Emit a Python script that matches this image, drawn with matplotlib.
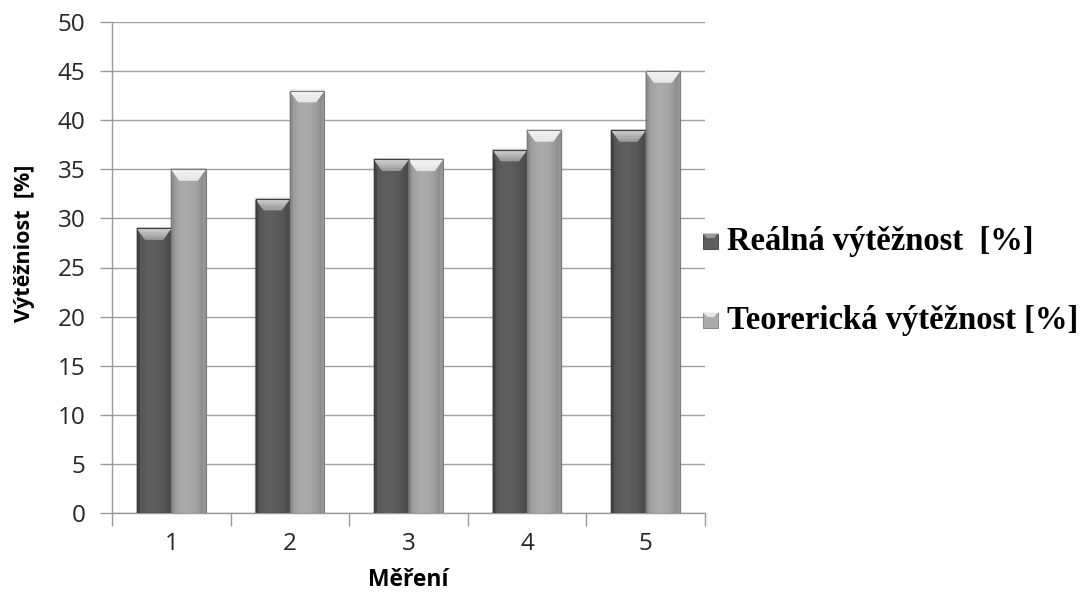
import numpy as np
import matplotlib
matplotlib.use("Agg")
import matplotlib.pyplot as plt
from matplotlib.patches import Polygon, Rectangle

categories = ["1", "2", "3", "4", "5"]
real_yield = [29, 32, 36, 37, 39]
theor_yield = [35, 43, 36, 39, 45]
series_names = ["Reálná výtěžnost  [%]", "Teorerická výtěžnost [%]"]
y_ticks = [0, 5, 10, 15, 20, 25, 30, 35, 40, 45, 50]

W, H, DPI = 1086, 601, 100
fig = plt.figure(figsize=(W / DPI, H / DPI), dpi=DPI)
ax = fig.add_axes([112 / W, 1 - 513 / H, (705 - 112) / W, (513 - 22) / H])

tick_font = "Open Sans"
bar_w = 0.29
x = np.arange(len(categories))

dark = dict(face="#5e5e5e", left="#434343", right="#4c4c4c", cap="#9a9a9a", edge="#3c3c3c")
light = dict(face="#ababab", left="#8e8e8e", right="#979797", cap="#e6e6e6", edge="#7c7c7c")


def beveled_bar(ax, xc, val, w, pal):
    x0, x1 = xc - w / 2, xc + w / 2
    d = w * 0.24
    hcap = 1.15
    # soft shadow
    ax.add_patch(Rectangle((x0 - 0.01, 0), w + 0.02, val + 0.15, facecolor="#000000",
                           alpha=0.07, edgecolor="none", zorder=2.9))
    # face with horizontal shading
    n = 24
    edges = np.linspace(x0, x1, n + 1)
    base = np.array(matplotlib.colors.to_rgb(pal["face"]))
    for i in range(n):
        t = (i + 0.5) / n
        k = 1.0 - 0.2 * (abs(t - 0.45) * 2) ** 2
        c = np.clip(base * k, 0, 1)
        ax.add_patch(Rectangle((edges[i], 0), edges[i + 1] - edges[i], val,
                               facecolor=c, edgecolor=c, linewidth=0.3, zorder=3))
    # side bevels
    ax.add_patch(Polygon([(x0, 0), (x0, val), (x0 + d * 0.35, val - hcap), (x0 + d * 0.35, 0)],
                         closed=True, facecolor=pal["left"], edgecolor="none", zorder=3.1))
    ax.add_patch(Polygon([(x1, 0), (x1, val), (x1 - d * 0.35, val - hcap), (x1 - d * 0.35, 0)],
                         closed=True, facecolor=pal["right"], edgecolor="none", zorder=3.1))
    # top bevel, fading from white to the cap colour
    steps = 5
    cap_top = np.array(matplotlib.colors.to_rgb("#ffffff"))
    cap_bot = np.array(matplotlib.colors.to_rgb(pal["cap"]))
    for j in range(steps):
        a, b = j / steps, (j + 1) / steps
        m = (a + b) / 2
        c = np.clip(cap_top * (1 - m) * 0.6 + cap_bot * (0.4 + 0.6 * m), 0, 1)
        ax.add_patch(Polygon([(x0 + d * a, val - hcap * a), (x1 - d * a, val - hcap * a),
                              (x1 - d * b, val - hcap * b), (x0 + d * b, val - hcap * b)],
                             closed=True, facecolor=c, edgecolor=c, linewidth=0.4,
                             zorder=3.2))
    ax.add_patch(Rectangle((x0, 0), w, val, facecolor="none", edgecolor=pal["edge"],
                           linewidth=0.8, zorder=3.4))


for i in range(len(categories)):
    beveled_bar(ax, x[i] - bar_w / 2, real_yield[i], bar_w, dark)
    beveled_bar(ax, x[i] + bar_w / 2, theor_yield[i], bar_w, light)

ax.set_xlim(-0.5, len(categories) - 0.5)
ax.set_ylim(0, 50)
ax.set_yticks(y_ticks)
ax.set_yticklabels([str(v) for v in y_ticks], fontfamily=tick_font, fontsize=17.5, color="#262626")
ax.set_xticks(x)
ax.set_xticklabels(categories, fontfamily=tick_font, fontsize=17.5, color="#262626")
ax.tick_params(axis="x", length=0, pad=14)
ax.tick_params(axis="y", length=9, color="#9a9a9a", width=1, pad=10)
# category separator ticks on the x axis
ax.set_xticks(np.arange(-0.5, len(categories)), minor=True)
ax.tick_params(axis="x", which="minor", length=9, color="#9a9a9a", width=1)

ax.yaxis.grid(True, color="#a0a0a0", linewidth=1)
ax.set_axisbelow(True)
for s in ["top", "right"]:
    ax.spines[s].set_visible(False)
for s in ["left", "bottom"]:
    ax.spines[s].set_color("#9a9a9a")
    ax.spines[s].set_linewidth(1)

ax.set_ylabel("Výtěžniost  [%]", fontfamily=tick_font, fontweight="bold", fontsize=15.5)
ax.yaxis.set_label_coords(-(112 - 25) / (705 - 112), (513 - 243) / (513 - 22))
ax.set_xlabel("Měření", fontfamily=tick_font, fontweight="bold", fontsize=16.5)
ax.xaxis.set_label_coords(0.5, -(580 - 513) / (513 - 22))
ax.xaxis.label.set_va("center")
ax.yaxis.label.set_va("center")

# legend drawn in figure pixel coordinates
legend_font = dict(family="Liberation Serif", weight="bold", size=23.5)
for name, pal, baseline in [(series_names[0], dark, 250), (series_names[1], light, 329)]:
    s = 15
    mx, my = 703, baseline - 9
    fig.patches.append(Rectangle((mx / W, 1 - (my + s / 2) / H), s / W, s / H,
                                 transform=fig.transFigure, facecolor=pal["face"],
                                 edgecolor=pal["edge"], linewidth=0.6))
    fig.patches.append(Polygon([(mx / W, 1 - (my - s / 2) / H), ((mx + s) / W, 1 - (my - s / 2) / H),
                                ((mx + s * 0.72) / W, 1 - (my - s * 0.2) / H),
                                ((mx + s * 0.28) / W, 1 - (my - s * 0.2) / H)],
                               closed=True, transform=fig.transFigure,
                               facecolor=pal["cap"], edgecolor="none"))
    fig.text(727 / W, 1 - baseline / H, name, ha="left", va="baseline", **legend_font)

fig.savefig("out.png", dpi=DPI)
